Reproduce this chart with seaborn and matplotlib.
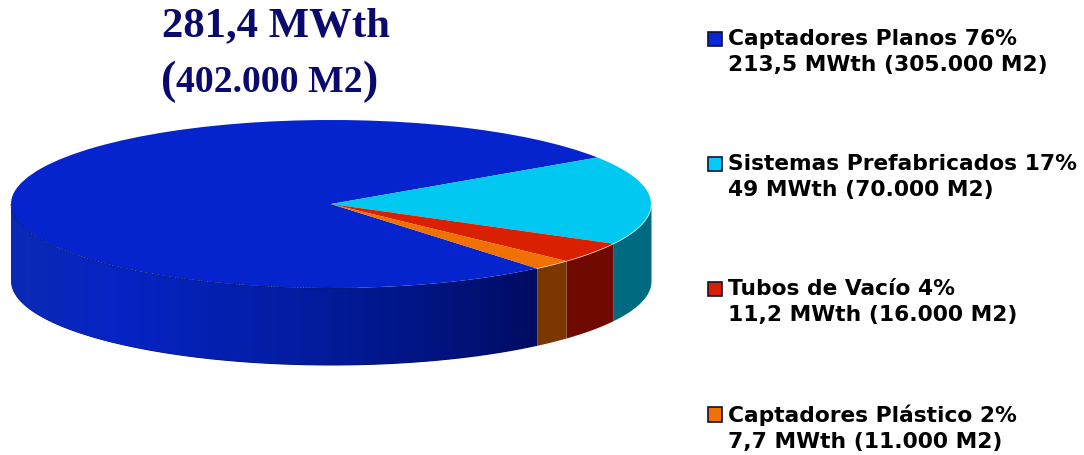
import numpy as np
import matplotlib
matplotlib.use("Agg")
import matplotlib.pyplot as plt
from matplotlib.colors import LinearSegmentedColormap
from matplotlib.legend_handler import HandlerPatch
from matplotlib.patches import Patch, Rectangle
import seaborn as sns

names = ["Captadores Planos", "Sistemas Prefabricados", "Tubos de Vacío", "Captadores Plástico"]
percent = [76, 17, 4, 2]
mwth = ["213,5", "49", "11,2", "7,7"]
area = ["305.000", "70.000", "16.000", "11.000"]

top_colors = ["#0624CE", "#00C8F0", "#D92000", "#F07000"]
side_colors = ["#001070", "#006A80", "#700A00", "#7A3800"]
legend_colors = ["#0A28D8", "#00CCFF", "#D92000", "#F07000"]

sns.set_theme(style="white")

fig = plt.figure(figsize=(10.84, 4.56), dpi=100)
ax = fig.add_axes([0, 0, 1, 1])

# top of the pie, squashed later by the axis limits
wedges, _ = ax.pie(percent, colors=sns.color_palette(top_colors), startangle=-50,
                   counterclock=False, radius=1, wedgeprops={"linewidth": 0, "zorder": 5})
ax.set_aspect("auto")

# pie pixel geometry
cx, cy, rx, ry = 331, 205, 320, 84
depth = 77 / ry

# side wall of each slice, only the front half shows
for w, c in zip(wedges, side_colors):
    shift = 360 if w.theta1 < -360 else 0
    lo = max(w.theta1 + shift, -180)
    hi = min(w.theta2 + shift, 0)
    t = np.radians(np.linspace(lo, hi, 200))
    xs = np.cos(t)
    poly = ax.fill_between(xs, np.sin(t), np.sin(t) - depth, color=c, linewidth=0, zorder=2)
    if w is wedges[0]:
        cmap = LinearSegmentedColormap.from_list(
            "side", [(0, "#0A2AB4"), (0.2, "#0524C4"), (0.55, "#031CA0"), (0.85, "#00127A"), (1, "#000C60")])
        grad = ax.imshow(np.linspace(0, 1, 256)[None, :], cmap=cmap, aspect="auto", zorder=3,
                         extent=[xs.min(), xs.max(), -2, 2])
        grad.set_clip_path(poly.get_paths()[0], transform=ax.transData)
        # dark rim on the front of the top
        front = t < np.radians(-85)
        ax.plot(xs[front], np.sin(t)[front], color="#00104A", lw=0.7, ls=(0, (2, 1)), zorder=6, alpha=0.7)

ax.set_xlim((0 - cx) / rx, (1084 - cx) / rx)
ax.set_ylim((cy - 456) / ry, cy / ry)
ax.axis("off")

title_color = "#0A0A6E"
ax.text((276 - cx) / rx, (cy - 26) / ry, "281,4 MWth", family="Liberation Serif", weight="bold",
        fontsize=30.8, color=title_color, ha="center", va="center")
ax.text((269 - cx) / rx, (cy - 82) / ry, "402.000 M2", family="Liberation Serif", weight="bold",
        fontsize=27.2, color=title_color, ha="center", va="center")
ax.text((169 - cx) / rx, (cy - 82) / ry, "(", family="Liberation Serif", weight="bold",
        fontsize=33, color=title_color, ha="center", va="center")
ax.text((370 - cx) / rx, (cy - 82) / ry, ")", family="Liberation Serif", weight="bold",
        fontsize=33, color=title_color, ha="center", va="center")


def first_line_box(legend, orig_handle, xdescent, ydescent, width, height, fontsize):
    # keep the colour box beside the first line of the label
    return Rectangle((xdescent, ydescent + 10), width, height)


labels = [f"{n} {p}%\n{m} MWth ({a} M2)" for n, p, m, a in zip(names, percent, mwth, area)]
handles = [Patch(facecolor=c, edgecolor="#101030", linewidth=1.2) for c in legend_colors]
leg = fig.legend(handles, labels, loc="upper left", bbox_to_anchor=(708 / 1084, 1 - 29 / 456), frameon=False,
                 prop={"family": "DejaVu Sans", "size": 15.7}, labelcolor="black",
                 handlelength=0.62, handleheight=0.62, handletextpad=0.3, labelspacing=3.62,
                 borderpad=0, borderaxespad=0,
                 handler_map={Patch: HandlerPatch(patch_func=first_line_box)})
for text in leg.get_texts():
    text.set_fontweight("bold")
    text.set_linespacing(1.38)

fig.savefig("out.png", dpi=100)
